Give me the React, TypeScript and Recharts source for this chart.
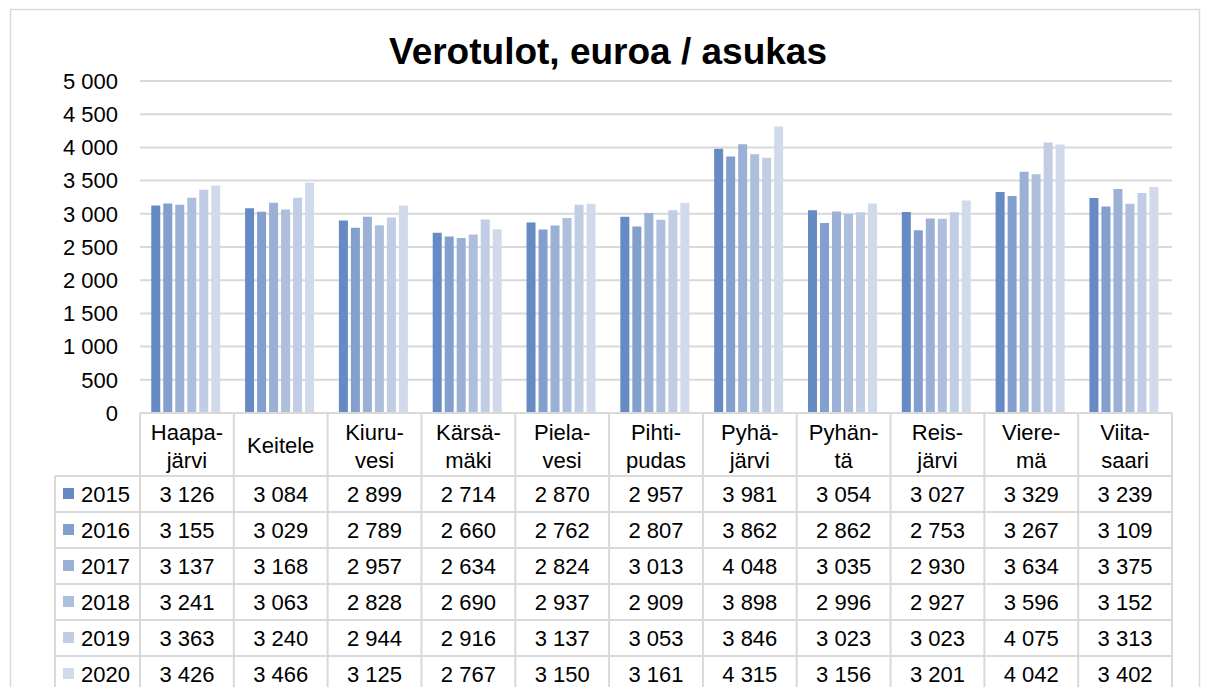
import { BarChart, Bar, XAxis, YAxis, CartesianGrid } from "recharts";

const categories = [
  "Haapajärvi",
  "Keitele",
  "Kiuruvesi",
  "Kärsämäki",
  "Pielavesi",
  "Pihtipudas",
  "Pyhäjärvi",
  "Pyhäntä",
  "Reisjärvi",
  "Vieremä",
  "Viitasaari",
];

const categoryLabels = [
  ["Haapa-", "järvi"],
  ["Keitele"],
  ["Kiuru-", "vesi"],
  ["Kärsä-", "mäki"],
  ["Piela-", "vesi"],
  ["Pihti-", "pudas"],
  ["Pyhä-", "järvi"],
  ["Pyhän-", "tä"],
  ["Reis-", "järvi"],
  ["Viere-", "mä"],
  ["Viita-", "saari"],
];

const years = ["2015", "2016", "2017", "2018", "2019", "2020"];

const v2015 = [3126, 3084, 2899, 2714, 2870, 2957, 3981, 3054, 3027, 3329, 3239];
const v2016 = [3155, 3029, 2789, 2660, 2762, 2807, 3862, 2862, 2753, 3267, 3109];
const v2017 = [3137, 3168, 2957, 2634, 2824, 3013, 4048, 3035, 2930, 3634, 3375];
const v2018 = [3241, 3063, 2828, 2690, 2937, 2909, 3898, 2996, 2927, 3596, 3152];
const v2019 = [3363, 3240, 2944, 2916, 3137, 3053, 3846, 3023, 3023, 4075, 3313];
const v2020 = [3426, 3466, 3125, 2767, 3150, 3161, 4315, 3156, 3201, 4042, 3402];

const yTicks = [0, 500, 1000, 1500, 2000, 2500, 3000, 3500, 4000, 4500, 5000];

const seriesValues = [v2015, v2016, v2017, v2018, v2019, v2020];
const colors = ["#658AC4", "#829FCD", "#9BB0D5", "#AEBFDD", "#C0CDE5", "#D1DAEB"];

const data = categories.map((name, i) => {
  const row: Record<string, string | number> = { name };
  years.forEach((y, j) => {
    row[y] = seriesValues[j][i];
  });
  return row;
});

const fmt = (v: number) => String(v).replace(/\B(?=(\d{3})+(?!\d))/g, " ");

// plot geometry (page pixels)
const W = 1208;
const H = 687;
const plotLeft = 140;
const plotRight = 1172;
const plotTop = 81;
const plotBottom = 413;
const labelRowBottom = 476;
const rowH = 36;
const legendLeft = 55;
const colW = (plotRight - plotLeft) / categories.length;
const font = "'Liberation Sans', Arial, sans-serif";
const grid = "#D9D9D9";

function CategoryTick(props: any) {
  const { x, y, index } = props;
  const lines = categoryLabels[index] || [];
  const dys = lines.length === 1 ? [40] : [27, 55];
  return (
    <text x={x} y={y} textAnchor="middle" fontSize={22} fontFamily={font} fill="#000">
      {lines.map((l, i) => (
        <tspan key={i} x={x} y={y + dys[i]}>
          {l}
        </tspan>
      ))}
    </text>
  );
}

function DataTable() {
  const lines: any[] = [];
  for (let k = 0; k <= categories.length; k++) {
    const x = plotLeft + k * colW;
    lines.push(<line key={"v" + k} x1={x} x2={x} y1={plotBottom} y2={H} stroke={grid} strokeWidth={2} />);
  }
  lines.push(<line key="vl" x1={legendLeft} x2={legendLeft} y1={labelRowBottom} y2={H} stroke={grid} strokeWidth={2} />);
  for (let r = 0; r <= years.length; r++) {
    const y = labelRowBottom + r * rowH;
    lines.push(<line key={"h" + r} x1={legendLeft} x2={plotRight} y1={y} y2={y} stroke={grid} strokeWidth={2} />);
  }
  return (
    <svg width={W} height={H} style={{ position: "absolute", left: 0, top: 0, pointerEvents: "none" }}>
      <rect x={10.5} y={9.5} width={1189} height={720} fill="none" stroke={grid} strokeWidth={1.5} />
      <text x={608} y={64} textAnchor="middle" fontSize={37} fontWeight="bold" fontFamily={font} fill="#000">
        Verotulot, euroa / asukas
      </text>
      {lines}
      {years.map((yr, r) => {
        const cy = labelRowBottom + r * rowH + rowH / 2;
        return (
          <g key={yr}>
            <rect x={63} y={cy - 6} width={11} height={11} fill={colors[r]} />
            <text x={81} y={cy + 8} fontSize={22} fontFamily={font} fill="#000">
              {yr}
            </text>
            {seriesValues[r].map((v, i) => (
              <text
                key={i}
                x={plotLeft + (i + 0.5) * colW}
                y={cy + 8}
                textAnchor="middle"
                fontSize={22}
                fontFamily={font}
                fill="#000"
              >
                {fmt(v)}
              </text>
            ))}
          </g>
        );
      })}
    </svg>
  );
}

export default function App() {
  return (
    <div style={{ position: "absolute", left: 0, top: 0, width: W, height: H, background: "#fff", overflow: "hidden" }}>
      <div style={{ position: "absolute", left: 0, top: 0 }}>
        <BarChart
          width={W}
          height={H}
          data={data}
          margin={{ top: plotTop, right: W - plotRight, left: 0, bottom: H - labelRowBottom }}
          barCategoryGap="12%"
          barGap={3}
        >
          <CartesianGrid vertical={false} stroke={grid} strokeWidth={2} />
          <XAxis
            dataKey="name"
            height={labelRowBottom - plotBottom}
            tickLine={false}
            tickSize={0}
            tickMargin={0}
            axisLine={{ stroke: grid, strokeWidth: 2 }}
            tick={<CategoryTick />}
            interval={0}
          />
          <YAxis
            width={plotLeft}
            domain={[0, 5000]}
            ticks={yTicks}
            tickFormatter={fmt}
            axisLine={false}
            tickLine={false}
            tickSize={0}
            tickMargin={22}
            tick={{ fontSize: 22, fontFamily: font, fill: "#000" }}
          />
          {years.map((y, j) => (
            <Bar key={y} dataKey={y} fill={colors[j]} isAnimationActive={false} />
          ))}
        </BarChart>
      </div>
      <DataTable />
    </div>
  );
}
